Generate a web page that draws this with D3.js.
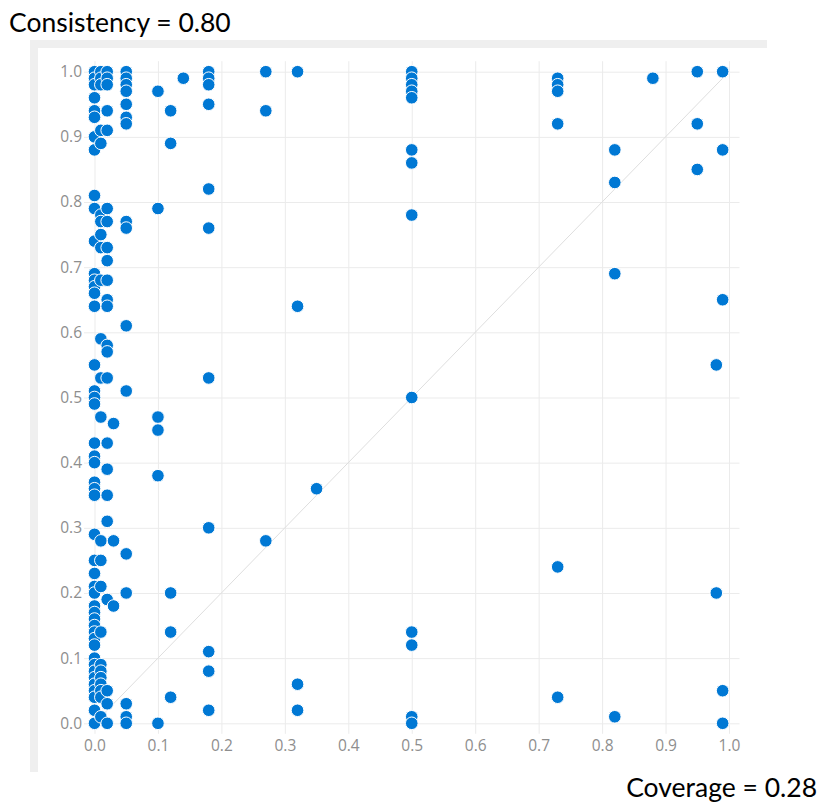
<!DOCTYPE html>
<html>
<head>
<meta charset="utf-8">
<script src="https://cdn.jsdelivr.net/npm/d3@7"></script>
<style>
  html, body { margin: 0; padding: 0; background: #fff; }
  svg { display: block; }
</style>
</head>
<body>
<svg id="chart" width="821" height="805"></svg>
<script>
// ---- data (coverage x, consistency y), grouped by x column ----
const columnX = [0.00, 0.01, 0.02, 0.03, 0.05, 0.10, 0.12, 0.14, 0.18, 0.27, 0.32, 0.35, 0.50, 0.73, 0.82, 0.88, 0.95, 0.98, 0.99];
const columnY = [
  [1.00, 0.99, 0.98, 0.96, 0.94, 0.93, 0.90, 0.88, 0.81, 0.79, 0.74, 0.69, 0.68, 0.67, 0.66, 0.64, 0.55, 0.51, 0.50, 0.49, 0.43, 0.41, 0.40, 0.37, 0.36, 0.35, 0.29, 0.25, 0.23, 0.21, 0.20, 0.18, 0.17, 0.16, 0.15, 0.14, 0.13, 0.12, 0.10, 0.09, 0.08, 0.07, 0.06, 0.05, 0.04, 0.02, 0.00],
  [1.00, 0.99, 0.98, 0.91, 0.89, 0.78, 0.77, 0.75, 0.73, 0.68, 0.59, 0.53, 0.47, 0.28, 0.25, 0.21, 0.14, 0.09, 0.08, 0.07, 0.06, 0.05, 0.04, 0.01],
  [1.00, 0.99, 0.98, 0.94, 0.91, 0.79, 0.77, 0.73, 0.71, 0.68, 0.65, 0.64, 0.58, 0.57, 0.53, 0.43, 0.39, 0.35, 0.31, 0.19, 0.05, 0.03, 0.00],
  [0.46, 0.28, 0.18],
  [1.00, 0.99, 0.98, 0.97, 0.95, 0.93, 0.92, 0.77, 0.76, 0.61, 0.51, 0.26, 0.20, 0.03, 0.01, 0.00],
  [0.97, 0.79, 0.47, 0.45, 0.38, 0.00],
  [0.94, 0.89, 0.20, 0.14, 0.04],
  [0.99],
  [1.00, 0.99, 0.98, 0.95, 0.82, 0.76, 0.53, 0.30, 0.11, 0.08, 0.02],
  [1.00, 0.94, 0.28],
  [1.00, 0.64, 0.06, 0.02],
  [0.36],
  [1.00, 0.99, 0.98, 0.97, 0.96, 0.88, 0.86, 0.78, 0.50, 0.14, 0.12, 0.01, 0.00],
  [0.99, 0.98, 0.97, 0.92, 0.24, 0.04],
  [0.88, 0.83, 0.69, 0.01],
  [0.99],
  [1.00, 0.92, 0.85],
  [0.55, 0.20],
  [1.00, 0.88, 0.65, 0.05, 0.00]
];
const tickValues = [0.0, 0.1, 0.2, 0.3, 0.4, 0.5, 0.6, 0.7, 0.8, 0.9, 1.0];
const titleText = "Consistency = 0.80";
const footerText = "Coverage = 0.28";

// ---- build points ----
const points = [];
columnX.forEach((xv, i) => columnY[i].forEach(yv => points.push({x: xv, y: yv})));

const svg = d3.select("#chart");

// frame (light grey top & left bands)
svg.append("rect").attr("x", 30).attr("y", 40).attr("width", 737).attr("height", 8).attr("fill", "#efefef");
svg.append("rect").attr("x", 30).attr("y", 40).attr("width", 8).attr("height", 732).attr("fill", "#efefef");

const x = d3.scaleLinear().domain([0, 1]).range([94.5, 729]);
const y = d3.scaleLinear().domain([0, 1]).range([723.3, 71.7]);

const ext = 10.5;
const fmt = d3.format(".1f");

// grid via axes
const gx = svg.append("g").attr("transform", `translate(0,${y(0) + ext})`)
  .call(d3.axisBottom(x).tickValues(tickValues).tickFormat(fmt)
        .tickSize(-(y(0) - y(1) + 2 * ext)));
const gy = svg.append("g").attr("transform", `translate(${x(0) - ext},0)`)
  .call(d3.axisLeft(y).tickValues(tickValues).tickFormat(fmt)
        .tickSize(-(x(1) - x(0) + 2 * ext)).tickPadding(2));

[gx, gy].forEach(g => {
  g.select(".domain").remove();
  g.selectAll(".tick line").attr("stroke", "#ebebeb").attr("stroke-width", 1);
  g.selectAll(".tick text")
    .attr("fill", "#8e8e8e")
    .attr("font-family", "'Open Sans', sans-serif")
    .attr("font-size", 15.5);
});
gx.selectAll(".tick text").attr("dy", "0.71em").attr("y", 6);

// diagonal reference line
svg.append("line")
  .attr("x1", x(0)).attr("y1", y(0))
  .attr("x2", x(1)).attr("y2", y(1))
  .attr("stroke", "#dedede").attr("stroke-width", 1);

// points
svg.append("g").selectAll("circle").data(points).join("circle")
  .attr("cx", d => x(d.x)).attr("cy", d => y(d.y))
  .attr("r", 6.3)
  .attr("fill", "#0078d4")
  .attr("stroke", "#ffffff").attr("stroke-width", 1);

// title & footer
svg.append("text").attr("x", 9).attr("y", 32)
  .attr("font-family", "Lato, 'Open Sans', sans-serif").attr("font-size", 26.5)
  .attr("fill", "#000").text(titleText);
svg.append("text").attr("x", 817).attr("y", 797).attr("text-anchor", "end")
  .attr("font-family", "Lato, 'Open Sans', sans-serif").attr("font-size", 26.5)
  .attr("fill", "#000").text(footerText);
</script>
</body>
</html>
